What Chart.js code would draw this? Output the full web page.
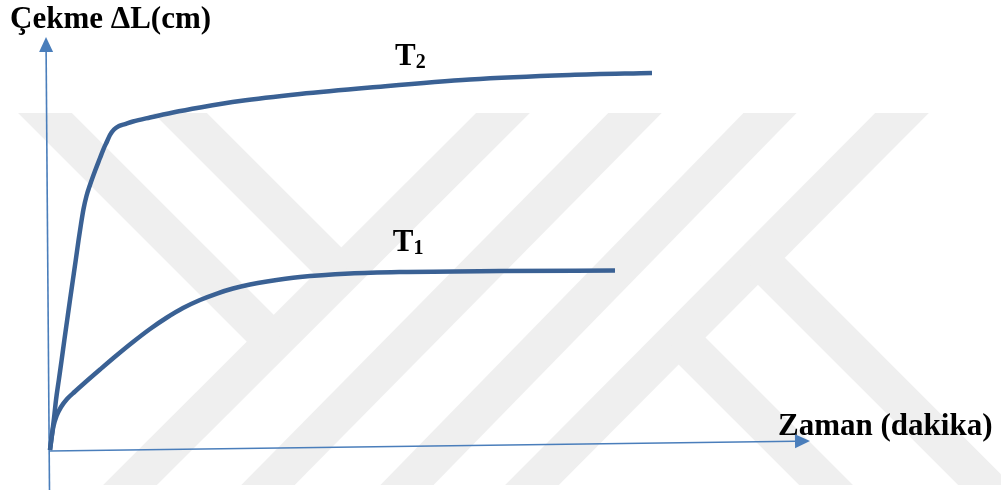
<!DOCTYPE html>
<html>
<head>
<meta charset="utf-8">
<style>
  html, body { margin: 0; padding: 0; background: #fff; }
  canvas { display: block; }
</style>
<script src="https://cdn.jsdelivr.net/npm/chart.js@4/dist/chart.umd.min.js"></script>
</head>
<body>
<canvas id="cekmeChart" width="1001" height="490"></canvas>
<script>
// zaman (x) and çekme (y) readings, arbitrary units 0-100
let zamanT1 = [0, 0.2, 0.46, 0.86, 1.45, 2.24, 3.29, 4.61, 6.58, 8.82, 10.92, 13.16, 15.39, 17.5, 19.74, 21.97, 24.08, 26.32, 28.55, 32.89, 39.47, 46.05, 59.21, 74.34];
let cekmeT1 = [0, 2.91, 5.81, 8.23, 10.41, 12.35, 14.16, 16.34, 19.49, 23.0, 26.15, 29.3, 32.08, 34.38, 36.32, 37.89, 39.1, 40.07, 40.8, 41.89, 42.74, 43.1, 43.34, 43.46];

let zamanT2 = [0, 0.26, 0.53, 0.79, 1.16, 1.53, 1.89, 2.26, 2.63, 3.01, 3.39, 3.76, 4.08, 4.41, 4.8, 5.26, 5.92, 6.58, 7.04, 7.5, 7.89, 8.42, 9.08, 9.87, 10.92, 13.16, 16.18, 19.74, 25.0, 32.89, 42.11, 55.26, 68.42, 79.21];
let cekmeT2 = [0, 3.63, 7.75, 12.11, 16.95, 21.79, 26.63, 31.48, 36.32, 41.16, 46.0, 50.85, 54.72, 58.35, 61.5, 64.16, 67.55, 70.7, 72.88, 74.7, 76.27, 77.6, 78.45, 78.93, 79.54, 80.51, 81.72, 82.93, 84.5, 86.2, 87.77, 89.71, 90.8, 91.28];

let seriesNames = ['T1', 'T2'];
let lineColor = '#3a6194';
let axisColor = '#4a7ebb';
let font = 'bold 31px "Liberation Serif", "Times New Roman", serif';
let subFont = 'bold 20px "Liberation Serif", "Times New Roman", serif';

function toPoints(xs, ys) {
  return xs.map((x, i) => ({ x: x, y: ys[i] }));
}

function curve(label, xs, ys) {
  return {
    label: label,
    data: toPoints(xs, ys),
    showLine: true,
    borderColor: lineColor,
    backgroundColor: lineColor,
    borderWidth: 4.5,
    pointRadius: 0,
    cubicInterpolationMode: 'monotone',
    borderCapStyle: 'butt',
    clip: false
  };
}

// faint diagonal stripes behind the plot
const watermark = {
  id: 'watermark',
  beforeDraw(chart) {
    let c = chart.ctx;
    c.save();
    c.fillStyle = '#fff';
    c.fillRect(0, 0, chart.width, chart.height);
    c.beginPath();
    c.rect(0, 113, chart.width, 372);
    c.clip();
    c.strokeStyle = '#efefef';
    c.lineWidth = 38;
    c.lineCap = 'butt';
    let full = (xTop, xBot) => {
      let k = (xBot - xTop) / 372;
      return [xTop - 30 * k, 83, xBot + 30 * k, 515];
    };
    let bands = [
      full(503, 130), full(635, 268), full(770, 407), full(902, 532),
      [15, 83, 274, 342], [150, 83, 341, 274],
      [758, 258, 1015, 515], [679, 338, 856, 515]
    ];
    bands.forEach(b => {
      c.beginPath();
      c.moveTo(b[0], b[1]);
      c.lineTo(b[2], b[3]);
      c.stroke();
    });
    c.restore();
  }
};

function arrow(c, x1, y1, x2, y2) {
  let a = Math.atan2(y2 - y1, x2 - x1);
  let len = 15, w = 7;
  let bx = x2 - len * Math.cos(a), by = y2 - len * Math.sin(a);
  c.beginPath();
  c.moveTo(x1, y1);
  c.lineTo(bx, by);
  c.stroke();
  c.beginPath();
  c.moveTo(x2, y2);
  c.lineTo(bx + w * Math.sin(a), by - w * Math.cos(a));
  c.lineTo(bx - w * Math.sin(a), by + w * Math.cos(a));
  c.closePath();
  c.fill();
}

// axis arrows, axis titles and curve labels
const axesAndLabels = {
  id: 'axesAndLabels',
  beforeDatasetsDraw(chart) {
    let c = chart.ctx;
    let area = chart.chartArea;
    let xs = chart.scales.x, ys = chart.scales.y;
    c.save();
    c.fillStyle = '#000';
    c.font = font;
    c.textBaseline = 'alphabetic';
    c.fillText('Çekme ΔL(cm)', 10, 28);
    c.fillText('Zaman (dakika)', area.right - 32, area.bottom - 15);

    // T labels next to their curves
    let labelX = [45.1, 45.4], labelY = [48.2, 93.2];
    seriesNames.forEach((name, i) => {
      let px = xs.getPixelForValue(labelX[i]);
      let py = ys.getPixelForValue(labelY[i]);
      c.font = font;
      c.fillText(name[0], px, py);
      let w = c.measureText(name[0]).width;
      c.font = subFont;
      c.fillText(name.slice(1), px + w, py + 3);
    });

    c.strokeStyle = axisColor;
    c.fillStyle = axisColor;
    c.lineWidth = 1.6;
    arrow(c, area.left - 0.5, chart.height, area.left - 4, area.top);
    arrow(c, area.left, area.bottom + 1, area.right, area.bottom - 9);
    c.restore();
  }
};

let ctx = document.getElementById('cekmeChart').getContext('2d');

let myChart = new Chart(ctx, {
  type: 'scatter',
  data: {
    datasets: [
      curve(seriesNames[0], zamanT1, cekmeT1),
      curve(seriesNames[1], zamanT2, cekmeT2)
    ]
  },
  options: {
    responsive: false,
    animation: false,
    layout: { padding: { left: 50, top: 37, right: 191, bottom: 40 } },
    scales: {
      x: { type: 'linear', min: 0, max: 100, display: false },
      y: { min: 0, max: 100, display: false }
    },
    plugins: {
      legend: { display: false },
      tooltip: { enabled: false }
    }
  },
  plugins: [watermark, axesAndLabels]
});
</script>
</body>
</html>
